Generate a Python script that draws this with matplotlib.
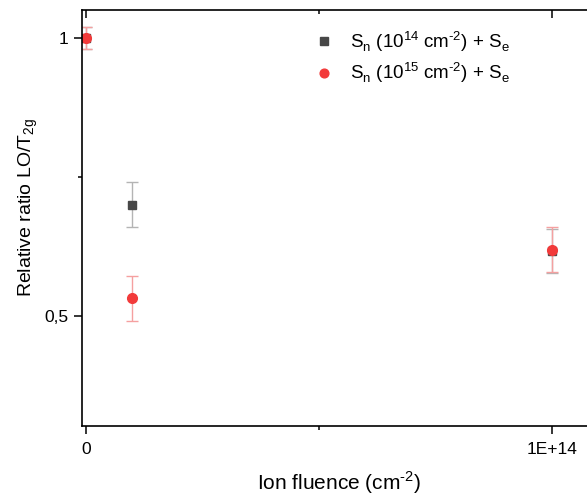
import numpy as np
import matplotlib
matplotlib.use("Agg")
import matplotlib.pyplot as plt
from matplotlib.ticker import FixedLocator, FuncFormatter

plt.rcParams['font.family'] = ['Liberation Sans', 'DejaVu Sans']
plt.rcParams['mathtext.fontset'] = 'custom'
plt.rcParams['mathtext.rm'] = 'Liberation Sans'

# data
fluence = [0, 1e13, 1e14]
ratio_1e14 = [1.0, 0.70, 0.616]
err_1e14 = [0.02, 0.04, 0.04]
ratio_1e15 = [1.0, 0.531, 0.619]
err_1e15 = [0.02, 0.04, 0.04]

fig = plt.figure(figsize=(5.87, 4.95), dpi=100)
W, H = 587, 495
# axes box in pixels: left 81.7, top 10, bottom 425.7, right beyond the image
ax = fig.add_axes([81.7 / W, (H - 425.7) / H, (600 - 81.7) / W, (425.7 - 10) / H])

lab14 = r'S$_\mathregular{n}$ (10$^\mathregular{14}$ cm$^\mathregular{\text{-}2}$) + S$_\mathregular{e}$'
lab15 = r'S$_\mathregular{n}$ (10$^\mathregular{15}$ cm$^\mathregular{\text{-}2}$) + S$_\mathregular{e}$'

e1 = ax.errorbar(fluence, ratio_1e14, yerr=err_1e14, fmt='s', color='#474747', ms=6,
                 ecolor='#b4b4b4', elinewidth=1, capsize=4, capthick=1)
e2 = ax.errorbar(fluence, ratio_1e15, yerr=err_1e15, fmt='o', color='#f23a3a', ms=7,
                 ecolor='#f5a0a0', elinewidth=1, capsize=4, capthick=1)

# pixel scale: x 0 -> 85.7, 1e14 -> 551.7 ; y 1 -> 37.7, 0.5 -> 315.7
xpp = 1e14 / 466.0
ypp = 0.5 / 278.0
ax.set_xlim(0 - (85.7 - 81.7) * xpp, 0 + (600 - 85.7) * xpp)
ax.set_ylim(0.5 - (425.7 - 315.7) * ypp, 1 + (37.7 - 10) * ypp)

ax.xaxis.set_major_locator(FixedLocator([0, 1e14]))
ax.xaxis.set_minor_locator(FixedLocator([5e13]))
ax.yaxis.set_major_locator(FixedLocator([0.5, 1.0]))
ax.yaxis.set_minor_locator(FixedLocator([0.75]))
ax.xaxis.set_major_formatter(FuncFormatter(lambda v, p: '0' if v == 0 else '1E+14'))
ax.yaxis.set_major_formatter(FuncFormatter(lambda v, p: '1' if v == 1 else '0,5'))

ax.spines['right'].set_visible(False)
for s in ['left', 'bottom', 'top']:
    ax.spines[s].set_linewidth(1.2)
ax.tick_params(which='both', direction='out', labelsize=12.5, width=1.1,
               top=False, right=False)
ax.tick_params(which='major', length=6)
ax.tick_params(which='minor', length=3)
ax.xaxis.set_tick_params(which='both', pad=6)

# inward ticks on the top edge
top = ax.secondary_xaxis('top')
top.xaxis.set_major_locator(FixedLocator([0, 1e14]))
top.xaxis.set_minor_locator(FixedLocator([5e13]))
top.tick_params(which='both', direction='in', labeltop=False, width=1.1)
top.tick_params(which='major', length=6)
top.tick_params(which='minor', length=3)
top.spines['top'].set_visible(False)

ax.set_xlabel(r'Ion fluence (cm$^\mathregular{\text{-}2}$)', fontsize=15, va='center')
ax.xaxis.set_label_coords((339 - 81.7) / 518.3, -0.138)
ax.set_ylabel(r'Relative ratio LO/T$_\mathregular{2g}$', fontsize=14, va='center')
ax.yaxis.set_label_coords((28 - 81.7) / 518.3, 0.525)

ax.legend([e1[0], e2[0]], [lab14, lab15], loc='upper left',
          bbox_to_anchor=((296 - 81.7) / 518.3, 0.995),
          frameon=False, fontsize=13.5, handletextpad=0.8, labelspacing=0.35,
          handlelength=1.2, markerscale=0.9)

fig.savefig('out.png', dpi=100)
